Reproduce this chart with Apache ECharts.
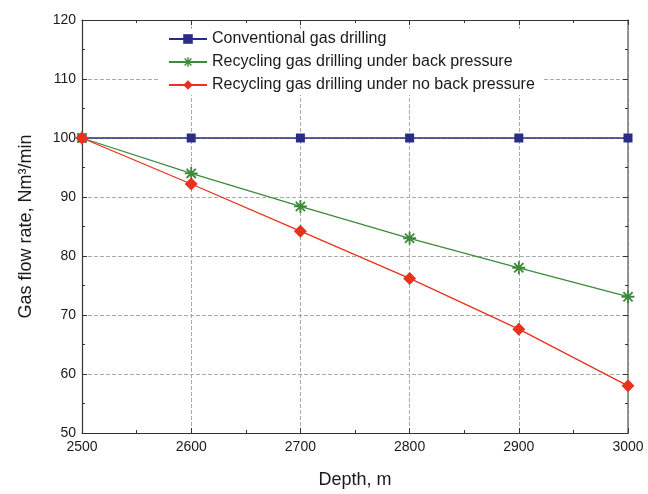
<!DOCTYPE html>
<html><head><meta charset="utf-8">
<script src="https://cdn.jsdelivr.net/npm/echarts@6/dist/echarts.min.js"></script>
<style>html,body{margin:0;padding:0;background:#fff}#c{width:648px;height:494px}</style>
</head><body><div id="c"></div>
<script>
var depths = [2500, 2600, 2700, 2800, 2900, 3000];
var conventional = [100, 100, 100, 100, 100, 100];
var backPressure = [100, 94.0, 88.4, 83.0, 78.0, 73.1];
var noBackPressure = [100, 92.2, 84.2, 76.2, 67.6, 58.0];
var seriesNames = ['Conventional gas drilling', 'Recycling gas drilling under back pressure', 'Recycling gas drilling under no back pressure'];

var star = 'path://M-1,-7L1,-7L1,7L-1,7Z M-7,-1L7,-1L7,1L-7,1Z M-4.24,-5.66L5.66,4.24L4.24,5.66L-5.66,-4.24Z M-5.66,4.24L4.24,-5.66L5.66,-4.24L-4.24,5.66Z';
function pairs(v){ return depths.map(function(d,i){return [d, v[i]];}); }
var font = 'Liberation Sans, Arial, sans-serif';
var axLine = {show:true, lineStyle:{color:'#333', width:1.2}};
var chart = echarts.init(document.getElementById('c'));
chart.setOption({
  animation:false,
  grid:{left:82, right:20, top:20, bottom:60},
  legend:{
    left:160, top:29, orient:'vertical', itemGap:7, itemWidth:38, itemHeight:12,
    padding:[2,8,2,8], backgroundColor:'#fff',
    textStyle:{fontFamily:font, fontSize:16, color:'#1a1a1a'},
    data:seriesNames
  },
  xAxis:[{
    type:'value', min:2500, max:3000, interval:100,
    name:'Depth, m', nameLocation:'middle', nameGap:38,
    nameTextStyle:{fontFamily:font, fontSize:18, color:'#1a1a1a'},
    axisLine:axLine,
    axisTick:{inside:true, length:5, lineStyle:{color:'#333'}},
    minorTick:{show:true, splitNumber:2, length:3, lineStyle:{color:'#333'}},
    axisLabel:{fontFamily:font, fontSize:14, color:'#1a1a1a', margin:7, formatter:function(v){return String(v);}},
    splitLine:{show:true, lineStyle:{type:'dashed', color:'#aaa'}}
  },{
    type:'value', position:'top', min:2500, max:3000, interval:100,
    axisLine:axLine,
    axisTick:{inside:true, length:5, lineStyle:{color:'#333'}},
    minorTick:{show:true, splitNumber:2, length:3, lineStyle:{color:'#333'}},
    axisLabel:{show:false}, splitLine:{show:false}
  }],
  yAxis:[{
    type:'value', min:50, max:120, interval:10,
    name:'Gas flow rate, Nm\u00b3/min', nameLocation:'middle', nameGap:47,
    nameTextStyle:{fontFamily:font, fontSize:18, color:'#1a1a1a'},
    axisLine:axLine,
    axisTick:{inside:true, length:5, lineStyle:{color:'#333'}},
    minorTick:{show:true, splitNumber:2, length:3, lineStyle:{color:'#333'}},
    axisLabel:{fontFamily:font, fontSize:14, color:'#1a1a1a', margin:6},
    splitLine:{show:true, lineStyle:{type:'dashed', color:'#aaa'}}
  },{
    type:'value', position:'right', min:50, max:120, interval:10,
    axisLine:{show:true, lineStyle:{color:'#777', width:1.5}},
    axisTick:{inside:true, length:5, lineStyle:{color:'#333'}},
    minorTick:{show:true, splitNumber:2, length:3, lineStyle:{color:'#333'}},
    axisLabel:{show:false}, splitLine:{show:false}
  }],
  series:[{
    name:seriesNames[0], type:'line', data:pairs(conventional),
    symbol:'rect', symbolSize:9, color:'#2a2d86',
    lineStyle:{width:1.3, color:'#2a2d86'}, itemStyle:{color:'#2a2d86'}
  },{
    name:seriesNames[1], type:'line', data:pairs(backPressure),
    symbol:star, symbolSize:13, color:'#3d8a3d',
    lineStyle:{width:1.3, color:'#3d8a3d'}, itemStyle:{color:'#3d8a3d'}
  },{
    name:seriesNames[2], type:'line', data:pairs(noBackPressure),
    symbol:'diamond', symbolSize:13, color:'#e8321e',
    lineStyle:{width:1.3, color:'#e8321e'}, itemStyle:{color:'#e8321e'}
  }]
});
</script></body></html>
